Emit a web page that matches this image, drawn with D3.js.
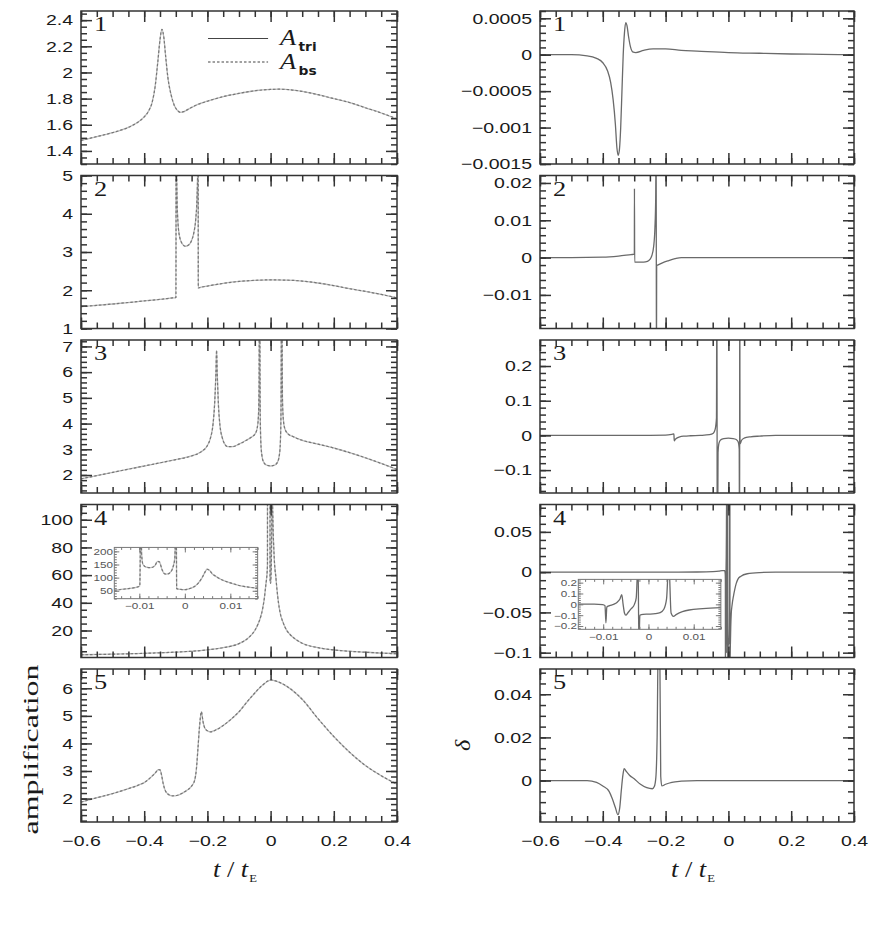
<!DOCTYPE html>
<html>
<head>
<meta charset="utf-8">
<script src="https://cdn.jsdelivr.net/npm/d3@7"></script>
<style>
  body { margin: 0; background: #fff; }
</style>
</head>
<body>
<script>
'use strict';

// ---- data ----
const T_DOMAIN = [-0.6, 0.4];
const X_TICKS = [-0.6, -0.4, -0.2, 0, 0.2, 0.4];
const INSET_X_DOMAIN = [-0.0155, 0.016];
const INSET_X_TICKS = [-0.01, 0, 0.01];

// amplification, panels 1-5  [t/tE, A]
const AMP1 = [[-0.6,1.48],[-0.55,1.51],[-0.5,1.54],[-0.45,1.58],[-0.42,1.62],[-0.4,1.66],[-0.385,1.71],
  [-0.375,1.77],[-0.365,1.9],[-0.357,2.08],[-0.35,2.25],[-0.344,2.33],[-0.338,2.27],[-0.332,2.12],
  [-0.325,1.96],[-0.315,1.83],[-0.305,1.75],[-0.295,1.71],[-0.285,1.695],[-0.275,1.7],[-0.26,1.72],
  [-0.24,1.745],[-0.2,1.78],[-0.15,1.815],[-0.1,1.84],[-0.05,1.86],[0,1.87],[0.03,1.872],[0.07,1.865],
  [0.1,1.855],[0.15,1.83],[0.2,1.8],[0.25,1.77],[0.3,1.73],[0.35,1.69],[0.4,1.645]];
const AMP2 = [[-0.6,1.57],[-0.5,1.64],[-0.4,1.72],[-0.35,1.76],[-0.31,1.8],[-0.2995,1.81],[-0.2988,9],
  [-0.2975,5.4],[-0.296,4.4],[-0.293,3.75],[-0.288,3.4],[-0.28,3.22],[-0.27,3.15],[-0.26,3.18],[-0.25,3.3],
  [-0.243,3.5],[-0.237,3.85],[-0.233,4.4],[-0.2305,5.3],[-0.2295,9],[-0.2288,2.06],[-0.22,2.08],[-0.2,2.11],
  [-0.15,2.18],[-0.1,2.23],[-0.05,2.26],[0,2.27],[0.05,2.265],[0.1,2.24],[0.15,2.19],[0.2,2.12],
  [0.25,2.04],[0.3,1.97],[0.35,1.89],[0.4,1.8]];
const AMP3 = [[-0.6,1.85],[-0.5,2.1],[-0.4,2.35],[-0.3,2.6],[-0.25,2.74],[-0.22,2.9],[-0.2,3.15],[-0.19,3.45],
  [-0.182,4.0],[-0.177,4.8],[-0.173,6.0],[-0.171,6.85],[-0.169,6.0],[-0.165,4.7],[-0.16,3.9],[-0.153,3.45],
  [-0.145,3.2],[-0.135,3.1],[-0.12,3.1],[-0.1,3.2],[-0.08,3.33],[-0.06,3.48],[-0.048,3.62],[-0.042,3.85],
  [-0.0385,4.3],[-0.0365,5.5],[-0.0355,9],[-0.0345,9],[-0.033,4.6],[-0.031,3.3],[-0.028,2.8],[-0.022,2.5],
  [-0.012,2.38],[0,2.35],[0.012,2.38],[0.022,2.5],[0.028,2.8],[0.031,3.3],[0.033,4.6],[0.0345,9],[0.0355,9],
  [0.0375,5.0],[0.04,4.2],[0.045,3.8],[0.055,3.6],[0.07,3.5],[0.1,3.35],[0.15,3.2],[0.2,3.05],[0.25,2.87],
  [0.3,2.67],[0.35,2.45],[0.4,2.22]];
const AMP4_WIDE = [[-0.6,2.5],[-0.5,2.9],[-0.4,3.5],[-0.3,4.4],[-0.2,6.0],[-0.15,7.6],[-0.1,10.5],[-0.08,13],
  [-0.06,17],[-0.05,20],[-0.04,24.5],[-0.03,31],[-0.025,36],[-0.02,43],
  [0.02,50],[0.025,40],[0.03,33],[0.04,25.5],[0.05,20.5],[0.06,17.5],[0.08,13.5],[0.1,10.8],[0.15,7.6],
  [0.2,6.0],[0.3,4.3],[0.4,3.2]];
const AMP4_CORE = [[-0.0155,52],[-0.013,57],[-0.011,62],[-0.0099,68],[-0.00965,400],[-0.0095,190],[-0.0092,150],
  [-0.0085,140],[-0.0075,138],[-0.0066,145],[-0.006,162],[-0.0056,160],[-0.005,130],[-0.0045,115],[-0.004,113],
  [-0.0032,120],[-0.0026,140],[-0.0022,175],[-0.0019,400],[-0.0018,58],[-0.001,55],[0,54],[0.001,58],[0.002,65],
  [0.003,80],[0.0038,100],[0.0044,120],[0.0049,132],[0.0054,128],[0.006,115],[0.007,103],[0.008,93],
  [0.01,80],[0.012,70],[0.014,64],[0.016,60]];
const AMP5 = [[-0.6,1.87],[-0.55,2.03],[-0.5,2.18],[-0.45,2.36],[-0.42,2.48],[-0.4,2.58],[-0.38,2.76],[-0.365,2.93],
  [-0.355,3.05],[-0.35,3.04],[-0.345,2.85],[-0.34,2.55],[-0.333,2.28],[-0.322,2.14],[-0.31,2.1],[-0.295,2.12],
  [-0.28,2.19],[-0.265,2.3],[-0.25,2.45],[-0.24,2.68],[-0.235,3.05],[-0.23,3.8],[-0.225,4.6],[-0.219,5.15],
  [-0.214,4.8],[-0.208,4.55],[-0.2,4.46],[-0.19,4.42],[-0.175,4.48],[-0.15,4.65],[-0.125,4.88],[-0.1,5.15],
  [-0.075,5.5],[-0.05,5.83],[-0.025,6.12],[0,6.3],[0.02,6.25],[0.05,6.08],[0.1,5.6],[0.15,4.9],[0.2,4.25],
  [0.25,3.68],[0.3,3.2],[0.35,2.83],[0.4,2.52]];

// relative difference delta, panels 1-5  [t/tE, delta]
const DELTA1 = [[-0.6,0],[-0.5,0],[-0.45,-0.000015],[-0.42,-0.00005],[-0.4,-0.00011],[-0.385,-0.00022],
  [-0.375,-0.00038],[-0.367,-0.00062],[-0.36,-0.00095],[-0.355,-0.00128],[-0.351,-0.00138],[-0.347,-0.0013],
  [-0.343,-0.001],[-0.339,-0.0005],[-0.335,0],[-0.331,0.0003],[-0.327,0.00044],[-0.323,0.0004],[-0.318,0.00025],
  [-0.312,0.00011],[-0.305,0.00004],[-0.295,0.00003],[-0.27,0.00006],[-0.24,0.00008],[-0.2,0.00008],
  [-0.15,0.00006],[-0.1,0.00005],[0,0.00003],[0.1,0.00002],[0.2,0.00001],[0.3,0.000005],[0.4,0]];
const DELTA2 = [[-0.6,0],[-0.5,0],[-0.4,0.0001],[-0.35,0.0004],[-0.31,0.0008],[-0.2995,0.0009],[-0.2992,0.0185],
  [-0.2985,-0.0012],[-0.29,-0.0012],[-0.27,-0.0012],[-0.258,-0.001],[-0.25,-0.0005],[-0.244,0.0005],
  [-0.238,0.003],[-0.234,0.008],[-0.2315,0.016],[-0.23,0.04],[-0.2292,-0.04],[-0.2285,-0.0022],[-0.222,-0.0019],
  [-0.21,-0.0014],[-0.19,-0.0008],[-0.17,-0.0003],[-0.15,0],[0.4,0]];
const DELTA3 = [[-0.6,0],[-0.3,0],[-0.2,0.001],[-0.18,0.003],[-0.1735,0.004],[-0.1725,-0.016],[-0.169,-0.011],
  [-0.163,-0.007],[-0.155,-0.004],[-0.14,-0.002],[-0.12,-0.001],[-0.09,0],[-0.06,0.002],[-0.048,0.006],
  [-0.042,0.018],[-0.038,0.05],[-0.0365,0.6],[-0.0355,-0.6],[-0.033,-0.05],[-0.03,-0.022],[-0.025,-0.013],
  [-0.015,-0.009],[0,-0.008],[0.015,-0.009],[0.025,-0.012],[0.031,-0.018],[0.0345,-0.04],[0.0355,-0.6],
  [0.0362,0.6],[0.037,-0.025],[0.042,-0.014],[0.05,-0.008],[0.07,-0.004],[0.1,-0.002],[0.15,0],[0.4,0]];
const DELTA4_WIDE = [[-0.6,0],[-0.2,0],[-0.1,0.0002],[-0.05,0.0006],[-0.03,0.0012],[-0.02,0.002],
  [0.02,-0.022],[0.025,-0.014],[0.03,-0.009],[0.04,-0.005],[0.06,-0.002],[0.1,-0.0005],[0.15,0],[0.4,0]];
const DELTA4_CORE = [[-0.0155,0.002],[-0.012,0.002],[-0.0101,-0.002],[-0.0096,-0.012],[-0.0094,-0.17],
  [-0.0092,-0.025],[-0.0086,-0.012],[-0.0077,0],[-0.0069,0.02],[-0.0063,0.05],[-0.0059,0.09],[-0.0056,0],
  [-0.0053,-0.08],[-0.005,-0.1],[-0.0045,-0.075],[-0.0038,-0.04],[-0.0031,0],[-0.0027,0.06],[-0.0023,0.4],
  [-0.0021,-0.4],[-0.0019,-0.1],[-0.0012,-0.092],[0,-0.09],[0.0015,-0.086],[0.0026,-0.076],[0.0034,-0.045],
  [0.004,0.05],[0.0045,0.4],[0.005,-0.08],[0.0055,-0.11],[0.0062,-0.092],[0.0075,-0.068],[0.009,-0.052],
  [0.012,-0.04],[0.016,-0.03]];
const DELTA5 = [[-0.6,0],[-0.45,0],[-0.42,-0.0008],[-0.4,-0.0025],[-0.38,-0.005],[-0.37,-0.0083],[-0.36,-0.0125],
  [-0.352,-0.0158],[-0.346,-0.0125],[-0.341,-0.0045],[-0.336,0.0025],[-0.332,0.0055],[-0.325,0.0042],
  [-0.315,0.0025],[-0.3,0.0008],[-0.28,-0.0017],[-0.26,-0.0033],[-0.242,-0.0038],[-0.236,-0.0028],
  [-0.231,0.0015],[-0.227,0.02],[-0.223,0.07],[-0.219,0.07],[-0.2155,0.002],[-0.212,-0.0025],[-0.2,-0.0017],
  [-0.18,-0.0008],[-0.15,-0.0003],[-0.1,0],[0.4,0]];

// y axes: domains and labelled ticks
const AMP_DOMAINS = [[1.3, 2.47], [1, 5], [1.3, 7.25], [0.5, 111], [1.15, 6.7]];
const AMP_TICKS = [[1.4, 1.6, 1.8, 2, 2.2, 2.4], [1, 2, 3, 4, 5], [2, 3, 4, 5, 6, 7], [20, 40, 60, 80, 100], [2, 3, 4, 5, 6]];
const AMP_MINOR = [0.05, 0.2, 0.2, 5, 0.2];
const DELTA_DOMAINS = [[-0.0015, 0.0006], [-0.019, 0.022], [-0.166, 0.275], [-0.106, 0.084], [-0.0192, 0.0517]];
const DELTA_TICKS = [[-0.0015, -0.001, -0.0005, 0, 0.0005], [-0.01, 0, 0.01, 0.02], [-0.1, 0, 0.1, 0.2], [-0.1, -0.05, 0, 0.05], [0, 0.02, 0.04]];
const DELTA_MINOR = [0.0001, 0.002, 0.02, 0.01, 0.005];
const INSET_AMP_DOMAIN = [20, 215];
const INSET_AMP_TICKS = [50, 100, 150, 200];
const INSET_DELTA_DOMAIN = [-0.23, 0.23];
const INSET_DELTA_TICKS = [-0.2, -0.1, 0, 0.1, 0.2];

// ---- layout ----
const WIDTH = 891;
const HEIGHT = 926;
const LEFT_X = [81, 397];
const RIGHT_X = [540, 854];
const PANEL_TOP = 11;
const PANEL_H = 153;
const PANEL_GAP = 11.5;

const FRAME_COLOR = '#333';
const TEXT_COLOR = '#1a1a1a';
const SANS = '"Liberation Sans", Arial, sans-serif';
const SERIF = '"Liberation Serif", "Times New Roman", serif';
const STRETCH = 1.3;
const TICK_FONT_SIZE = 15;
const MAJOR_LEN = 11;
const MINOR_LEN = 6;

const TRI_STYLE = {color: '#bbb', width: 1.3};
const BS_STYLE = {color: '#777', width: 1.2, dash: '2.5,2'};
const DELTA_STYLE = {color: '#6a6a6a', width: 1.3};

function fmt(v) {
    return (Math.abs(v) < 1e-12 ? '0' : String(+v.toFixed(6))).replace('-', '\u2212');
}

function steps(domain, step) {
    let lo = Math.ceil(domain[0] / step - 1e-6);
    let hi = Math.floor(domain[1] / step + 1e-6);
    return d3.range(lo, hi + 1).map(i => +(i * step).toFixed(8));
}

function byT(a, b) {
    return a[0] - b[0];
}

const AMP_SERIES = [AMP1, AMP2, AMP3, AMP4_WIDE.concat(AMP4_CORE).sort(byT), AMP5];
const DELTA_SERIES = [DELTA1, DELTA2, DELTA3, DELTA4_WIDE.concat(DELTA4_CORE).sort(byT), DELTA5];

let svg;
let clipCount = 0;

// Frame with inward ticks on all four sides, labels on left (and bottom if asked).
function drawFrame(g, x, y, o) {
    const [x0, x1] = x.range();
    const [y1, y0] = y.range();
    const sides = [
        {axis: d3.axisBottom, scale: x, t: `translate(0,${y1})`, major: o.xMajor, minor: o.xMinor, labels: o.xLabels, vertical: false},
        {axis: d3.axisTop, scale: x, t: `translate(0,${y0})`, major: o.xMajor, minor: o.xMinor, labels: false, vertical: false},
        {axis: d3.axisLeft, scale: y, t: `translate(${x0},0)`, major: o.yMajor, minor: o.yMinor, labels: true, vertical: true},
        {axis: d3.axisRight, scale: y, t: `translate(${x1},0)`, major: o.yMajor, minor: o.yMinor, labels: false, vertical: true},
    ];
    sides.forEach(function(s) {
        [[s.minor, o.minorLen, false], [s.major, o.majorLen, s.labels]].forEach(function([vals, len, lab]) {
            let ax = s.axis(s.scale)
                    .tickValues(vals)
                    .tickSizeInner(-len)
                    .tickSizeOuter(0)
                    .tickPadding(s.vertical ? o.yPad : o.xPad)
                    .tickFormat(lab ? fmt : () => '');
            let a = g.append('g')
                    .attr('transform', s.t)
                    .call(ax)
                    .attr('font-family', SANS)
                    .attr('font-size', o.fontSize);
            a.select('.domain').remove();
            a.selectAll('line')
                    .attr('stroke', o.color)
                    .attr('stroke-width', o.strokeWidth);
            a.selectAll('text')
                    .attr('fill', o.textColor)
                    .attr('transform', `scale(${STRETCH},1)`);
        });
    });
    g.append('rect')
            .attr('x', x0)
            .attr('y', y0)
            .attr('width', x1 - x0)
            .attr('height', y1 - y0)
            .attr('fill', 'none')
            .attr('stroke', o.color)
            .attr('stroke-width', o.strokeWidth);
}

function drawSeries(g, x, y, data, style) {
    const [x0, x1] = x.range();
    const [y1, y0] = y.range();
    let id = 'clip' + (clipCount++);
    g.append('clipPath')
            .attr('id', id)
            .append('rect')
            .attr('x', x0)
            .attr('y', y0)
            .attr('width', x1 - x0)
            .attr('height', y1 - y0);
    let line = d3.line()
            .x(d => x(d[0]))
            .y(d => y(d[1]))
            .curve(d3.curveMonotoneX);
    g.append('path')
            .datum(data)
            .attr('clip-path', `url(#${id})`)
            .attr('d', line)
            .attr('fill', 'none')
            .attr('stroke', style.color)
            .attr('stroke-width', style.width)
            .attr('stroke-dasharray', style.dash || null);
}

function stretchedText(parent, x, y, str, size, family, opts = {}) {
    return parent.append('text')
            .attr('transform', `translate(${x},${y}) ${opts.rotate ? 'rotate(-90)' : ''} scale(${opts.stretch || STRETCH},1)`)
            .attr('font-family', family)
            .attr('font-size', size)
            .attr('font-style', opts.italic ? 'italic' : 'normal')
            .attr('text-anchor', opts.anchor || 'start')
            .attr('fill', TEXT_COLOR)
            .text(str);
}

function drawInset(parent, x, y, data, yTicks, yMinorStep, twoStyles) {
    const [x0, x1] = x.range();
    const [y1, y0] = y.range();
    let g = parent.append('g');
    g.append('rect').attr('x', x0).attr('y', y0).attr('width', x1 - x0).attr('height', y1 - y0).attr('fill', '#fff');
    if (twoStyles) {
        drawSeries(g, x, y, data, TRI_STYLE);
        drawSeries(g, x, y, data, BS_STYLE);
    } else {
        drawSeries(g, x, y, data, DELTA_STYLE);
    }
    drawFrame(g, x, y, {
        xMajor: INSET_X_TICKS, xMinor: steps(INSET_X_DOMAIN, 0.002), xLabels: true,
        yMajor: yTicks, yMinor: steps(y.domain(), yMinorStep),
        majorLen: 5, minorLen: 2.5, xPad: 4, yPad: 1,
        fontSize: 9, color: '#777', textColor: '#555', strokeWidth: 1,
    });
}

function main() {
    svg = d3.select('body')
            .append('svg')
            .attr('width', WIDTH)
            .attr('height', HEIGHT);

    const xMinor = steps(T_DOMAIN, 0.05);

    for (let i = 0; i < 5; i++) {
        let top = PANEL_TOP + i * (PANEL_H + PANEL_GAP);
        let bottom = top + PANEL_H;
        let last = (i === 4);

        // left column: amplification
        let xl = d3.scaleLinear().domain(T_DOMAIN).range(LEFT_X);
        let yl = d3.scaleLinear().domain(AMP_DOMAINS[i]).range([bottom, top]);
        let gl = svg.append('g');
        drawSeries(gl, xl, yl, AMP_SERIES[i], TRI_STYLE);
        drawSeries(gl, xl, yl, AMP_SERIES[i], BS_STYLE);
        drawFrame(gl, xl, yl, {
            xMajor: X_TICKS, xMinor: xMinor, xLabels: last,
            yMajor: AMP_TICKS[i], yMinor: steps(AMP_DOMAINS[i], AMP_MINOR[i]),
            majorLen: MAJOR_LEN, minorLen: MINOR_LEN, xPad: 13, yPad: 8 / STRETCH,
            fontSize: TICK_FONT_SIZE, color: FRAME_COLOR, textColor: TEXT_COLOR, strokeWidth: 1.5,
        });
        stretchedText(gl, LEFT_X[0] + 13, top + 20, String(i + 1), 22, SERIF, {stretch: 1.2});

        // right column: delta
        let xr = d3.scaleLinear().domain(T_DOMAIN).range(RIGHT_X);
        let yr = d3.scaleLinear().domain(DELTA_DOMAINS[i]).range([bottom, top]);
        let gr = svg.append('g');
        drawSeries(gr, xr, yr, DELTA_SERIES[i], DELTA_STYLE);
        drawFrame(gr, xr, yr, {
            xMajor: X_TICKS, xMinor: xMinor, xLabels: last,
            yMajor: DELTA_TICKS[i], yMinor: steps(DELTA_DOMAINS[i], DELTA_MINOR[i]),
            majorLen: MAJOR_LEN, minorLen: MINOR_LEN, xPad: 13, yPad: 8 / STRETCH,
            fontSize: TICK_FONT_SIZE, color: FRAME_COLOR, textColor: TEXT_COLOR, strokeWidth: 1.5,
        });
        stretchedText(gr, RIGHT_X[0] + 13, top + 20, String(i + 1), 22, SERIF, {stretch: 1.2});

        if (i === 0) {
            // legend
            let lx0 = xl(-0.198), lx1 = xl(-0.008);
            gl.append('line').attr('x1', lx0).attr('x2', lx1).attr('y1', yl(2.26)).attr('y2', yl(2.26))
                    .attr('stroke', '#444').attr('stroke-width', 1.1);
            gl.append('line').attr('x1', lx0).attr('x2', lx1).attr('y1', yl(2.08)).attr('y2', yl(2.08))
                    .attr('stroke', '#444').attr('stroke-width', 1.1).attr('stroke-dasharray', '2.5,2');
            [['tri', 2.26], ['bs', 2.08]].forEach(function([sub, v]) {
                let t = stretchedText(gl, xl(0.03), yl(v) + 7, 'A', 23, SERIF, {italic: true, stretch: 1.15});
                t.append('tspan')
                        .attr('dx', 2)
                        .attr('dy', 6)
                        .attr('font-family', '"DejaVu Sans", sans-serif')
                        .attr('font-style', 'normal')
                        .attr('font-weight', 'bold')
                        .attr('font-size', 12)
                        .text(sub);
            });
        }

        if (i === 3) {
            // insets of the caustic region
            let ix = d3.scaleLinear().domain(INSET_X_DOMAIN).range([xl(-0.4946), xl(-0.041)]);
            let iy = d3.scaleLinear().domain(INSET_AMP_DOMAIN).range([yl(43), yl(80)]);
            drawInset(gl, ix, iy, AMP4_CORE, INSET_AMP_TICKS, 10, true);

            let jx = d3.scaleLinear().domain(INSET_X_DOMAIN).range([xr(-0.478), xr(-0.024)]);
            let jy = d3.scaleLinear().domain(INSET_DELTA_DOMAIN).range([yr(-0.071), yr(-0.009)]);
            drawInset(gr, jx, jy, DELTA4_CORE, INSET_DELTA_TICKS, 0.02, false);
        }

        if (last) {
            // axis titles
            [LEFT_X, RIGHT_X].forEach(function(r) {
                let t = stretchedText(svg, (r[0] + r[1]) / 2 - 4, bottom + 55, 't', 23, SERIF, {italic: true, anchor: 'middle', stretch: 1.15});
                t.append('tspan').attr('font-style', 'normal').text(' / ');
                t.append('tspan').text('t');
                t.append('tspan').attr('font-style', 'normal').attr('font-size', 11).attr('dy', 5).attr('dx', 1).text('E');
            });
            stretchedText(svg, 38, (top + bottom) / 2 + 4, 'amplification', 22, SERIF, {rotate: true, anchor: 'middle', stretch: 1.45});
            stretchedText(svg, RIGHT_X[0] - 70, (top + bottom) / 2, '\u03b4', 22, SERIF, {rotate: true, anchor: 'middle', italic: true, stretch: 1.1});
        }
    }
}

document.addEventListener('DOMContentLoaded', function() {
    main();
});
</script>
</body>
</html>
